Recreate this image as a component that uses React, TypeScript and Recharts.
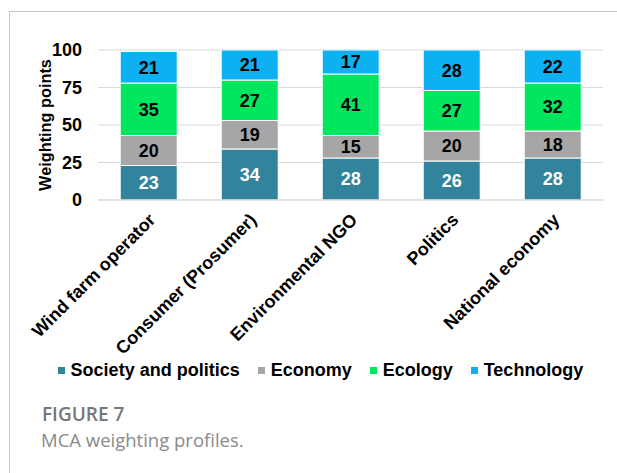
import { BarChart, Bar, XAxis, YAxis, CartesianGrid, Legend, LabelList } from 'recharts'

const categories = ['Wind farm operator', 'Consumer (Prosumer)', 'Environmental NGO', 'Politics', 'National economy']
const society = [23, 34, 28, 26, 28]
const economy = [20, 19, 15, 20, 18]
const ecology = [35, 27, 41, 27, 32]
const technology = [21, 21, 17, 28, 22]
const yTicks = [0, 25, 50, 75, 100]

const seriesNames = ['Society and politics', 'Economy', 'Ecology', 'Technology']
const seriesColors = ['#31849b', '#a6a6a6', '#00e65f', '#0db0f0']
const labelColors = ['#ffffff', '#000000', '#000000', '#000000']
const seriesKeys = ['society', 'economy', 'ecology', 'technology']

const data = categories.map((name, i) => ({
  name,
  society: society[i],
  economy: economy[i],
  ecology: ecology[i],
  technology: technology[i],
}))

const font = '"Liberation Sans", Arial, sans-serif'

function AngledTick({ x, y, payload }: any) {
  const tx = x + 8
  const ty = y + 13
  return (
    <text
      x={tx}
      y={ty}
      transform={`rotate(-45 ${tx} ${ty})`}
      textAnchor="end"
      fontFamily={font}
      fontWeight="bold"
      fontSize={18}
      fill="#000"
    >
      {payload.value}
    </text>
  )
}

function LegendContent() {
  return (
    <div
      style={{
        height: 24,
        display: 'flex',
        justifyContent: 'center',
        alignItems: 'center',
        paddingLeft: 38,
        fontFamily: font,
        fontWeight: 'bold',
        fontSize: 18,
        color: '#000',
      }}
    >
      {seriesNames.map((n, i) => (
        <div key={n} style={{ display: 'flex', alignItems: 'center', marginRight: i < 3 ? 18 : 0 }}>
          <span style={{ width: 7, height: 7, background: seriesColors[i], marginRight: 6, display: 'inline-block' }} />
          <span>{n}</span>
        </div>
      ))}
    </div>
  )
}

export default function App() {
  return (
    <div style={{ position: 'absolute', left: 0, top: 0, width: 617, height: 473, background: '#fff', overflow: 'hidden' }}>
      <div
        style={{
          position: 'absolute',
          left: 9,
          top: 11,
          right: 0,
          bottom: 0,
          borderTop: '1px solid #c8c8c8',
          borderLeft: '1px solid #c8c8c8',
        }}
      />
      <div style={{ position: 'absolute', left: 0, top: 0 }}>
        <BarChart
          width={617}
          height={390}
          data={data}
          margin={{ top: 50, right: 14, left: 0, bottom: 8 }}
          barCategoryGap="22%"
        >
          <CartesianGrid vertical={false} stroke="#d9d9d9" />
          <XAxis
            dataKey="name"
            tick={<AngledTick />}
            tickLine={false}
            axisLine={{ stroke: '#d9d9d9' }}
            interval={0}
            height={158}
          />
          <YAxis
            domain={[0, 100]}
            ticks={yTicks}
            allowDataOverflow
            width={98}
            axisLine={false}
            tickLine={false}
            tickMargin={10}
            tick={{ fontFamily: font, fontWeight: 'bold', fontSize: 18, fill: '#000' }}
            label={{
              value: 'Weighting points',
              angle: -90,
              position: 'center',
              dx: -4,
              style: { fontFamily: font, fontWeight: 'bold', fontSize: 16.3, fill: '#000', textAnchor: 'middle' },
            }}
          />
          <Legend verticalAlign="bottom" content={<LegendContent />} />
          {seriesKeys.map((k, i) => (
            <Bar
              key={k}
              dataKey={k}
              name={seriesNames[i]}
              stackId="a"
              fill={seriesColors[i]}
              stroke="#ffffff"
              strokeWidth={1}
              isAnimationActive={false}
            >
              <LabelList
                dataKey={k}
                position="center"
                fill={labelColors[i]}
                style={{ fontFamily: font, fontWeight: 'bold', fontSize: 18 }}
              />
            </Bar>
          ))}
        </BarChart>
      </div>
      <div
        style={{
          position: 'absolute',
          left: 42,
          top: 404,
          fontFamily: '"Open Sans", sans-serif',
          fontWeight: 600,
          fontSize: 19,
          color: '#777777',
          lineHeight: '20px',
        }}
      >
        FIGURE 7
      </div>
      <div
        style={{
          position: 'absolute',
          left: 41,
          top: 430,
          fontFamily: '"Open Sans", sans-serif',
          fontSize: 18.5,
          color: '#8a8a8a',
          lineHeight: '20px',
        }}
      >
        MCA weighting profiles.
      </div>
    </div>
  )
}
